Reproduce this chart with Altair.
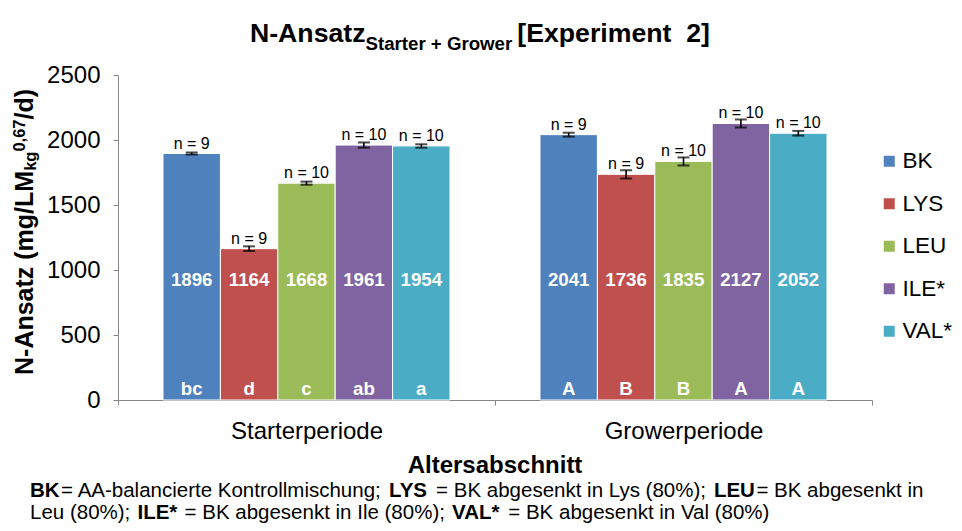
import altair as alt
import pandas as pd

# ---------------- data ----------------
PERIODS = ["Starterperiode", "Growerperiode"]
TREATMENTS = ["BK", "LYS", "LEU", "ILE*", "VAL*"]
COLORS = ["#4F81BD", "#C0504D", "#9BBB59", "#8064A2", "#4BACC6"]
STARTER_VALUES = [1896, 1164, 1668, 1961, 1954]
GROWER_VALUES = [2041, 1736, 1835, 2127, 2052]
STARTER_ERR = [8, 18, 12, 20, 13]
GROWER_ERR = [15, 32, 31, 31, 18]
N_COUNTS = [9, 9, 10, 10, 10]
STARTER_LETTERS = ["bc", "d", "c", "ab", "a"]
GROWER_LETTERS = ["A", "B", "B", "A", "A"]
Y_TICKS = [0, 500, 1000, 1500, 2000, 2500]

rows = []
for period, vals, errs, lets in [
    (PERIODS[0], STARTER_VALUES, STARTER_ERR, STARTER_LETTERS),
    (PERIODS[1], GROWER_VALUES, GROWER_ERR, GROWER_LETTERS),
]:
    for t, v, e, n, l in zip(TREATMENTS, vals, errs, N_COUNTS, lets):
        rows.append({"period": period, "treatment": t, "value": v, "err": e,
                     "nlabel": f"n = {n}", "letter": l})
df = pd.DataFrame(rows)

FONT = "Liberation Sans"
GRAY = "#868686"

# Arial / Liberation Sans advance widths (per 1000 em) for text layout
REG = {' ': 278, '\u00a0': 278, '%': 889, '(': 333, ')': 333, '*': 389, '+': 584, ',': 278,
       '-': 333, '.': 278, '/': 278, ';': 278, '=': 584, 'A': 667, 'B': 667, 'E': 667,
       'I': 278, 'K': 667, 'L': 556, 'S': 667, 'U': 722, 'V': 667, 'Y': 667, 'a': 556,
       'b': 556, 'c': 500, 'd': 556, 'e': 556, 'g': 556, 'h': 556, 'i': 222, 'k': 500,
       'l': 222, 'm': 833, 'n': 556, 'o': 556, 'r': 333, 's': 500, 't': 278, 'u': 556,
       'y': 500, 'z': 500, 'p': 556, 'x': 500, 'w': 722}
BLD = {' ': 278, '\u00a0': 278, '%': 889, '(': 333, ')': 333, '*': 389, '+': 584, ',': 278,
       '-': 333, '/': 278, '=': 584, 'A': 722, 'B': 722, 'E': 667, 'G': 778, 'I': 278,
       'K': 722, 'L': 611, 'M': 833, 'N': 722, 'S': 667, 'U': 722, 'V': 667, 'Y': 667,
       '[': 333, ']': 333, 'a': 556, 'd': 611, 'e': 556, 'g': 611, 'i': 278, 'k': 556,
       'm': 889, 'n': 611, 'o': 611, 'p': 611, 'r': 389, 's': 556, 't': 333, 'w': 778,
       'x': 556, 'z': 500}


def tw(s, size, bold=False):
    t = BLD if bold else REG
    return sum(t.get(c, 556) for c in s) * size / 1000.0


def label(text, x, y, size, bold=False, angle=0, align="left", baseline="alphabetic"):
    return alt.Chart(alt.Data(values=[{"a": 0}])).mark_text(
        text=text, font=FONT, fontSize=size, fontWeight="bold" if bold else "normal",
        align=align, baseline=baseline, angle=angle, color="black"
    ).encode(x=alt.value(x), y=alt.value(y))


def run(segments, x0, y, size):
    out = []
    x = x0
    for text, bold in segments:
        lead = len(text) - len(text.lstrip(" "))
        xs = x + tw(" " * lead, size, bold)
        out.append(label(text.strip(" "), xs, y, size, bold))
        x += tw(text, size, bold) + 1.5
    return out


W, H = 754, 325

Y_SCALE = alt.Scale(domain=[0, 2500], nice=False, zero=True)
Y_AXIS = alt.Axis(title=None, values=Y_TICKS, format="d", grid=False,
                  labelFontSize=24, labelFont=FONT, labelColor="black",
                  tickSize=5, labelPadding=13, domainColor=GRAY, tickColor=GRAY)

# ---------------- chart layers ----------------
base = alt.Chart(df).encode(
    x=alt.X("period:N", sort=PERIODS,
            scale=alt.Scale(paddingInner=0, paddingOuter=0),
            axis=alt.Axis(title=None, labelAngle=0, labelFontSize=24, labelFont=FONT,
                          labelColor="black", tickBand="extent", tickSize=5,
                          labelPadding=14, domainColor=GRAY, tickColor=GRAY)),
    xOffset=alt.XOffset("treatment:N", sort=TREATMENTS,
                        scale=alt.Scale(paddingInner=0, paddingOuter=0.784)),
)

bars = base.mark_bar(stroke="white", strokeWidth=1).encode(
    y=alt.Y("value:Q", scale=Y_SCALE, axis=Y_AXIS),
    color=alt.Color("treatment:N", sort=TREATMENTS,
                    scale=alt.Scale(domain=TREATMENTS, range=COLORS),
                    legend=alt.Legend(title=None, orient="none", legendX=760, legendY=75,
                                      symbolType="square", symbolSize=121,
                                      symbolStrokeWidth=0, labelFontSize=22.5,
                                      labelFont=FONT, labelColor="black",
                                      rowPadding=19.5, labelOffset=2, padding=0)),
)

err = base.transform_calculate(lo="datum.value - datum.err", hi="datum.value + datum.err")
rule = err.mark_rule(color="black", strokeWidth=1.6).encode(
    y=alt.Y("lo:Q", scale=Y_SCALE, axis=Y_AXIS), y2="hi:Q")
cap_lo = err.mark_tick(color="black", thickness=2, size=12).encode(
    y=alt.Y("lo:Q", scale=Y_SCALE, axis=Y_AXIS))
cap_hi = err.mark_tick(color="black", thickness=2, size=12).encode(
    y=alt.Y("hi:Q", scale=Y_SCALE, axis=Y_AXIS))

nlab = base.mark_text(font=FONT, fontSize=16, color="black", baseline="alphabetic",
                      dy=-5).encode(y=alt.Y("value:Q", scale=Y_SCALE, axis=Y_AXIS),
                                    text="nlabel:N")
vlab = base.mark_text(font=FONT, fontSize=18.67, fontWeight="bold", color="white",
                      baseline="middle").encode(
    y=alt.YDatum(923, type="quantitative", scale=Y_SCALE, axis=Y_AXIS), text="value:Q")
llab = base.mark_text(font=FONT, fontSize=18.67, fontWeight="bold", color="white",
                      baseline="alphabetic").encode(
    y=alt.YDatum(35, type="quantitative", scale=Y_SCALE, axis=Y_AXIS), text="letter:N")

layers = [bars, rule, cap_lo, cap_hi, nlab, vlab, llab]

# ---------------- title with subscript ----------------
TS, SS = 26.67, 18.67
t1, t2, t3 = "N-Ansatz", "Starter + Grower", "[Experiment\u00a0\u00a02]"
total = tw(t1, TS, True) + tw(t2, SS, True) + 5 + tw(t3, TS, True)
tx = 362 - total / 2
ty = -33
layers.append(label(t1, tx, ty, TS, True))
tx += tw(t1, TS, True)
layers.append(label(t2, tx, ty + 7.5, SS, True))
tx += tw(t2, SS, True) + 5
layers.append(label(t3, tx, ty, TS, True))

# ---------------- rotated y title ----------------
YM, YS = 25, 16.5
yy = 300
p1 = "N-Ansatz (mg/LM"
layers.append(label(p1, -85.5, yy, YM, True, angle=270))
yy -= tw(p1, YM, True)
layers.append(label("kg", -82, yy, YS, True, angle=270))
yy -= tw("kg", YS, True)
layers.append(label("0,67", -93.5, yy, YS, True, angle=270))
yy -= tw("0,67", YS, True)
layers.append(label("/d)", -85.5, yy, YM, True, angle=270))

# ---------------- x title ----------------
layers.append(label("Altersabschnitt", W / 2, 398, 24, True, align="center"))

# ---------------- footnote ----------------
FS = 20.5
line1 = [("BK", True), ("= AA-balancierte Kontrollmischung; ", False), ("LYS", True),
         (" = BK abgesenkt in Lys (80%); ", False), ("LEU", True),
         ("= BK abgesenkt in", False)]
line2 = [("Leu (80%); ", False), ("ILE*", True), (" = BK abgesenkt in Ile (80%); ", False),
         ("VAL*", True), (" = BK abgesenkt in Val (80%)", False)]
layers += run(line1, -88, 422, FS)
layers += run(line2, -88, 444, FS)

chart = alt.layer(*layers).properties(
    width=W, height=H,
    autosize=alt.AutoSizeParams(type="none"),
    padding={"left": 110, "top": 67, "right": 82, "bottom": 123},
).configure(font=FONT).configure_view(strokeWidth=0)

chart.save("out.html", embed_options={"renderer": "svg", "actions": False})
